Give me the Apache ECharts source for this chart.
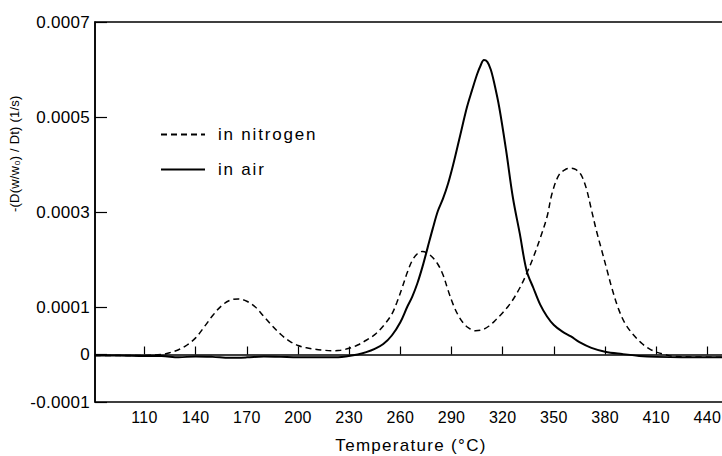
<!DOCTYPE html>
<html>
<head>
<meta charset="utf-8">
<script src="https://cdn.jsdelivr.net/npm/echarts@6/dist/echarts.min.js"></script>
<style>
html,body{margin:0;padding:0;background:#fff;}
#chart{width:722px;height:456px;}
#chart text{letter-spacing:0.3px;}
#chart text[style*="Arial Narrow"]{letter-spacing:1.8px;}
#chart text[style*="Nimbus"]{letter-spacing:1.3px;}
#chart text[style*="Helvetica"]{letter-spacing:0.2px;}
</style>
</head>
<body>
<div id="chart"></div>
<script>
// ---- data ----
const xTickValues = [110, 140, 170, 200, 230, 260, 290, 320, 350, 380, 410, 440];
const yTickValues = [-0.0001, 0, 0.0001, 0.0003, 0.0005, 0.0007];

const nitrogenT = [81, 95, 110, 120, 125, 130, 135, 140, 145, 150, 155, 160, 165, 170, 175, 180, 185, 190, 195, 200, 205, 210, 215, 220, 225, 230, 235, 240, 245, 250, 255, 258, 261, 264, 267, 270, 273, 276, 279, 282, 285, 288, 291, 294, 297, 300, 304, 308, 312, 316, 320, 325, 330, 334, 338, 342, 346, 349, 353, 357, 360, 363, 366, 369, 372, 375, 378, 381, 384, 388, 392, 397, 402, 406, 410, 415, 420, 430, 451];
const nitrogenV = [-0.000002, -0.000002, -0.000002, 0.0, 0.000004, 0.00001, 0.00002, 0.000035, 0.000058, 0.000082, 0.000102, 0.000114, 0.000117, 0.000112, 0.0001, 0.00008, 0.00006, 0.000042, 0.000028, 0.000019, 0.000014, 0.000011, 0.000009, 0.000008, 0.000009, 0.000013, 0.00002, 0.00003, 0.000042, 0.00006, 0.000085, 0.00011, 0.00014, 0.000172, 0.000198, 0.000212, 0.000217, 0.000213, 0.000204, 0.00019, 0.000168, 0.000135, 0.000105, 0.000082, 0.000066, 0.000056, 0.00005, 0.000052, 0.00006, 0.000073, 0.000088, 0.00011, 0.00014, 0.00017, 0.000205, 0.000245, 0.00029, 0.00034, 0.000378, 0.00039, 0.000392, 0.000389, 0.000378, 0.00035, 0.000305, 0.00026, 0.00022, 0.00018, 0.00014, 0.000095, 0.000064, 0.00004, 0.000022, 0.000012, 0.000005, 0.0, -0.000004, -0.000005, -0.000006];

const airT = [81, 95, 110, 120, 130, 140, 150, 160, 170, 180, 190, 200, 210, 220, 228, 235, 240, 245, 250, 255, 260, 264, 267, 270, 273, 276, 279, 282, 285, 288, 291, 295, 299, 302, 305, 307, 309, 311, 313, 315, 318, 322, 326, 330, 334, 338, 342, 346, 350, 355, 360, 365, 372, 380, 390, 400, 410, 425, 451];
const airV = [-0.000002, -0.000002, -0.000003, -0.000003, -0.000006, -0.000004, -0.000005, -0.000007, -0.000006, -0.000004, -0.000005, -0.000006, -0.000006, -0.000006, -0.000004, 0.0, 0.000005, 0.000012, 0.000022, 0.00004, 0.000068, 0.0001, 0.000122, 0.00015, 0.000185, 0.000225, 0.000265, 0.000302, 0.000328, 0.00036, 0.0004, 0.00046, 0.00052, 0.000556, 0.00059, 0.000608, 0.00062, 0.000616, 0.0006, 0.000572, 0.00052, 0.00043, 0.00033, 0.000255, 0.000177, 0.00014, 0.000105, 0.00008, 0.000062, 0.000048, 0.000038, 0.000026, 0.000014, 0.000006, 0.000001, -0.000003, -0.000005, -0.000006, -0.000006];

const seriesNames = ['in nitrogen', 'in air'];
const xName = 'Temperature (°C)';
const yName = '-(D(w/w₀) / Dt) (1/s)';

// ---- chart ----
const FT = "'Liberation Sans',Arial,sans-serif";
const FL = "'Liberation Sans','Arial Narrow',sans-serif";
const FX = "'Liberation Sans','Nimbus Sans Narrow',sans-serif";
const FY = "'Liberation Sans','Helvetica Narrow',sans-serif";

const chart = echarts.init(document.getElementById('chart'), null, {renderer: 'svg'});
chart.setOption({
  animation: false,
  backgroundColor: '#fff',
  grid: {left: 95, top: 22, right: -5, bottom: 54, outerBoundsMode: 'none', containLabel: false,
         show: true, borderColor: '#000', borderWidth: 1.5, backgroundColor: 'transparent'},
  legend: {
    orient: 'vertical', left: 155, top: 121, itemWidth: 44, itemHeight: 18, itemGap: 18,
    data: seriesNames,
    itemStyle: {opacity: 0},
    textStyle: {fontFamily: FL, fontSize: 17, color: '#000', padding: [0, 0, 0, 8]}
  },
  xAxis: {
    type: 'value', min: 81, max: 451.5,
    name: xName, nameLocation: 'middle', nameGap: 35,
    nameTextStyle: {fontFamily: FX, fontSize: 17, color: '#000'},
    axisLine: {show: true, lineStyle: {color: '#000', width: 1.5}},
    axisTick: {show: true, inside: true, length: 8, customValues: xTickValues, lineStyle: {color: '#000', width: 1.2}},
    axisLabel: {customValues: xTickValues, fontFamily: FT, fontSize: 16, color: '#000', margin: 7},
    splitLine: {show: false}
  },
  yAxis: {
    type: 'value', min: -0.0001, max: 0.0007, interval: 0.0001,
    name: yName, nameLocation: 'middle', nameGap: 68,
    nameTextStyle: {fontFamily: FY, fontSize: 13, color: '#000', align: 'left', width: 200, overflow: 'none'},
    axisLine: {show: true, lineStyle: {color: '#000', width: 1.5}},
    axisTick: {show: true, inside: true, length: 12, customValues: yTickValues, lineStyle: {color: '#000', width: 1.2}},
    axisLabel: {customValues: yTickValues, fontFamily: FT, fontSize: 17, color: '#000', margin: 5,
      formatter: v => v === 0 ? '0' : v.toFixed(4)},
    splitLine: {show: false}
  },
  series: [
    {name: seriesNames[0], type: 'line', symbol: 'none', smooth: 0.35,
     data: nitrogenT.map((t, i) => [t, nitrogenV[i]]),
     lineStyle: {color: '#000', width: 1.5, type: [6, 4]}, itemStyle: {color: '#000'}},
    {name: seriesNames[1], type: 'line', symbol: 'none', smooth: 0.35,
     data: airT.map((t, i) => [t, airV[i]]),
     lineStyle: {color: '#000', width: 2}, itemStyle: {color: '#000'}}
  ]
});
</script>
</body>
</html>
